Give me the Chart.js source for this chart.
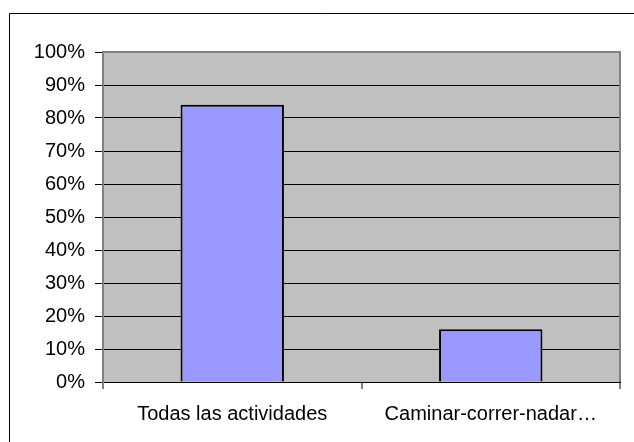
<!DOCTYPE html>
<html>
<head>
<meta charset="utf-8">
<script src="https://cdn.jsdelivr.net/npm/chart.js@4"></script>
<style>
  html, body { margin: 0; padding: 0; background: #fff; }
  canvas { display: block; }
</style>
</head>
<body>
<canvas id="myChart" width="634" height="442"></canvas>
<script>
// categories and shares (0..1)
const categories = ['Todas las actividades', 'Caminar-correr-nadar…'];
const shares = [0.84, 0.16];
const yTicks = [0, 0.1, 0.2, 0.3, 0.4, 0.5, 0.6, 0.7, 0.8, 0.9, 1];

const labelFont = { family: "'Liberation Sans', Arial, sans-serif", size: 20 };

// grey plot area, outer frame and plot border
const framePlugin = {
    id: 'frame',
    beforeDraw(chart) {
        const ctx = chart.ctx;
        const a = chart.chartArea;
        ctx.save();
        ctx.fillStyle = '#fff';
        ctx.fillRect(0, 0, chart.width, chart.height);
        ctx.strokeStyle = '#000';
        ctx.lineWidth = 1;
        ctx.beginPath();
        ctx.moveTo(9.5, chart.height + 2);
        ctx.lineTo(9.5, 13.5);
        ctx.lineTo(chart.width + 2, 13.5);
        ctx.stroke();
        ctx.fillStyle = '#c0c0c0';
        ctx.fillRect(a.left, a.top, a.right - a.left, a.bottom - a.top);
        ctx.restore();
    },
    beforeDatasetsDraw(chart) {
        const ctx = chart.ctx;
        const a = chart.chartArea;
        ctx.save();
        ctx.strokeStyle = '#808080';
        ctx.lineWidth = 2;
        ctx.beginPath();
        ctx.moveTo(a.left, a.top);
        ctx.lineTo(a.right, a.top);
        ctx.lineTo(a.right, a.bottom);
        ctx.stroke();
        ctx.restore();
    }
};

var ctx = document.getElementById('myChart').getContext('2d');
var myChart = new Chart(ctx, {
    type: 'bar',
    data: {
        labels: categories,
        datasets: [{
            data: shares,
            backgroundColor: '#9999ff',
            borderColor: '#000',
            borderWidth: 2,
            categoryPercentage: 0.4,
            barPercentage: 1
        }]
    },
    options: {
        responsive: false,
        animation: false,
        layout: { padding: { left: 0, top: 52, right: 14, bottom: 0 } },
        plugins: {
            legend: { display: false },
            tooltip: { enabled: false }
        },
        scales: {
            x: {
                afterFit: (scale) => { scale.height = 60; },
                border: { color: '#000', width: 1 },
                grid: {
                    drawOnChartArea: false,
                    drawTicks: true,
                    tickLength: 7,
                    tickColor: '#808080',
                    lineWidth: 2,
                    offset: true
                },
                ticks: { color: '#000', font: labelFont, padding: 13, maxRotation: 0 }
            },
            y: {
                min: 0,
                max: 1,
                afterFit: (scale) => { scale.width = 103; },
                afterBuildTicks: (scale) => { scale.ticks = yTicks.map(v => ({ value: v })); },
                border: { color: '#808080', width: 2 },
                grid: {
                    color: (c) => (c.tick && c.tick.value === 1 ? '#808080' : '#000'),
                    tickColor: '#000',
                    tickLength: 8,
                    lineWidth: 1
                },
                ticks: {
                    color: '#000',
                    font: labelFont,
                    padding: 10,
                    callback: (v) => Math.round(v * 100) + '%'
                }
            }
        }
    },
    plugins: [framePlugin]
});
</script>
</body>
</html>
